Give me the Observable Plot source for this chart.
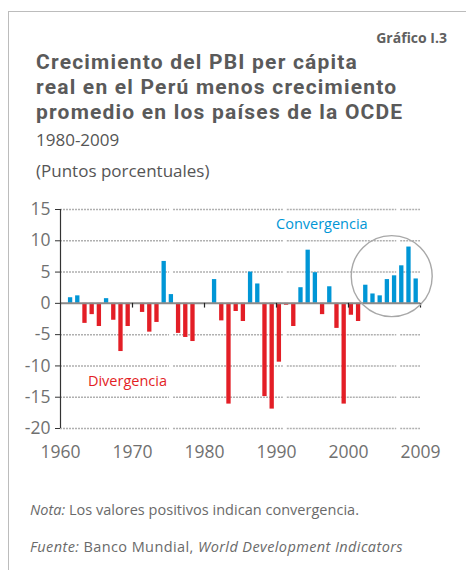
<!DOCTYPE html>
<html>
<head>
<meta charset="utf-8">
<script src="https://cdn.jsdelivr.net/npm/d3@7"></script>
<script src="https://cdn.jsdelivr.net/npm/@observablehq/plot@0.6"></script>
<style>
  html, body { margin: 0; padding: 0; background: #fff; }
  #page { position: relative; width: 466px; height: 570px; overflow: hidden; font-family: "Open Sans", sans-serif; color: #5e5e5e; }
  .abs { position: absolute; white-space: nowrap; }
  #frameTop { position: absolute; left: 8px; top: 11px; width: 470px; height: 0; border-top: 1.6px solid #bcbcbc; }
  #frameLeft { position: absolute; left: 8px; top: 11px; width: 0; height: 570px; border-left: 1.6px solid #bcbcbc; }
  #grafico { right: 19px; top: 28px; font-size: 14px; font-weight: 700; color: #606060; }
  .tl { left: 36px; font-family: Roboto, "Open Sans", sans-serif; font-size: 21px; font-weight: 700; line-height: 24px; color: #5a5a5a; }
  #t1 { top: 50px; }
  #t2 { top: 75px; }
  #t3 { top: 100px; }
  #sub1 { left: 36px; top: 128px; font-size: 17px; color: #555; }
  #sub2 { left: 36px; top: 159px; font-size: 17px; color: #555; }
  #chart { position: absolute; left: 0; top: 190px; }
  #nota { left: 30px; top: 500px; font-size: 14.5px; color: #6a6a6a; }
  #fuente { left: 30px; top: 537px; font-size: 14.5px; color: #6a6a6a; }
</style>
</head>
<body>
<div id="page">
  <div id="frameTop"></div>
  <div id="frameLeft"></div>
  <div class="abs" id="grafico">Gráfico I.3</div>
  <div class="abs tl" id="t1">Crecimiento del PBI per cápita</div>
  <div class="abs tl" id="t2">real en el Perú menos crecimiento</div>
  <div class="abs tl" id="t3">promedio en los países de la OCDE</div>
  <div class="abs" id="sub1">1980-2009</div>
  <div class="abs" id="sub2">(Puntos porcentuales)</div>
  <div id="chart"></div>
  <div class="abs" id="nota"><i>Nota:</i> Los valores positivos indican convergencia.</div>
  <div class="abs" id="fuente"><i>Fuente:</i> Banco Mundial, <i>World Development Indicators</i></div>
</div>
<script>
// ---- data ----
const years = [
  1961, 1962, 1963, 1964, 1965, 1966, 1967, 1968, 1969, 1970,
  1971, 1972, 1973, 1974, 1975, 1976, 1977, 1978, 1979, 1980,
  1981, 1982, 1983, 1984, 1985, 1986, 1987, 1988, 1989, 1990,
  1991, 1992, 1993, 1994, 1995, 1996, 1997, 1998, 1999, 2000,
  2001, 2002, 2003, 2004, 2005, 2006, 2007, 2008, 2009
];
const gap = [
  0.9, 1.2, -3.2, -1.8, -3.7, 0.75, -2.7, -7.7, -3.7, 0,
  -1.45, -4.6, -3.05, 6.7, 1.4, -4.8, -5.45, -6.1, 0, 0,
  3.8, -2.8, -16.1, -1.3, -2.9, 5.0, 3.1, -14.9, -16.9, -9.4,
  -0.3, -3.7, 2.5, 8.5, 4.9, -1.8, 2.65, -4.0, -16.1, -1.9,
  -2.9, 2.9, 1.5, 1.2, 3.8, 4.4, 6.0, 9.0, 3.9
];
const xTicks = [1960, 1970, 1980, 1990, 2000, 2010];
const xTickLabels = ["1960", "1970", "1980", "1990", "2000", "2009"];
const yTicks = [15, 10, 5, 0, -5, -10, -15, -20];
const gridValues = [15, 10, 5, -5, -10, -15, -20];
const gridSegments = [[1960, 1975.15], [1975.7, 1990.95], [1991.5, 2006.7], [2007.25, 2010]];
const labels = [
  {text: "Convergencia", year: 1996.3, value: 12.6, kind: "pos"},
  {text: "Divergencia", year: 1969.3, value: -12.4, kind: "neg"}
];
const highlight = [{year: 2006, value: 4.35}];

// ---- text fitting (letter-spacing to reach a target width) ----
function fitSpacing(ids, refId, target) {
  const ref = document.getElementById(refId);
  const w = ref.getBoundingClientRect().width;
  const n = ref.textContent.length;
  const ls = Math.max(-0.6, Math.min(1.2, (target - w) / n));
  ids.forEach(id => { document.getElementById(id).style.letterSpacing = ls + "px"; });
}
fitSpacing(["t1", "t2", "t3"], "t3", 382);
fitSpacing(["fuente"], "fuente", 373);
fitSpacing(["nota"], "nota", 329);

// ---- styling ----
const blue = "#0096d6";
const red = "#e31e26";
const data = years.map((y, i) => ({year: y, value: gap[i]}));
const grid = gridValues.flatMap(v => gridSegments.map(([a, b]) => ({v, a, b})));

const chart = Plot.plot({
  width: 466,
  height: 280,
  marginLeft: 60,
  marginRight: 46,
  marginTop: 19,
  marginBottom: 42,
  style: {fontFamily: "Open Sans, sans-serif", background: "transparent", overflow: "visible"},
  x: {domain: [1960, 2010], label: null},
  y: {domain: [-20, 15], label: null},
  marks: [
    Plot.ruleY(grid, {y: "v", x1: "a", x2: "b", stroke: "#b0b0b0", strokeWidth: 1.5, strokeDasharray: "2,1"}),
    Plot.rectY(data, {
      x1: d => d.year + 0.1,
      x2: d => d.year + 0.7,
      y: "value",
      fill: d => d.value >= 0 ? blue : red
    }),
    Plot.ruleY([0], {x1: 1960, x2: 2010, stroke: "#8a8a8a", strokeWidth: 2}),
    Plot.ruleX(xTicks.slice(1), {x: d => d, y1: 0, y2: -0.75, stroke: "#222", strokeWidth: 1.2}),
    Plot.ruleX([1960], {y1: -20, y2: 15, stroke: "#333", strokeWidth: 1.2}),
    Plot.axisY({ticks: yTicks, tickSize: 5, tickPadding: 5, tickFormat: d => String(d),
      fontSize: 17.5, stroke: "#333", fill: "#707070", label: null}),
    Plot.axisX({ticks: xTicks, tickSize: 0, tickPadding: 17,
      tickFormat: d => xTickLabels[xTicks.indexOf(d)],
      fontSize: 17.5, fill: "#707070", label: null}),
    Plot.dot(highlight, {x: "year", y: "value", r: 40.5, stroke: "#a8a8a8", strokeWidth: 1.4, fill: "none"}),
    Plot.text(labels, {x: "year", y: "value", text: "text", fontSize: 14.5,
      fill: d => d.kind === "pos" ? blue : red})
  ]
});
document.getElementById("chart").appendChild(chart);
</script>
</body>
</html>
